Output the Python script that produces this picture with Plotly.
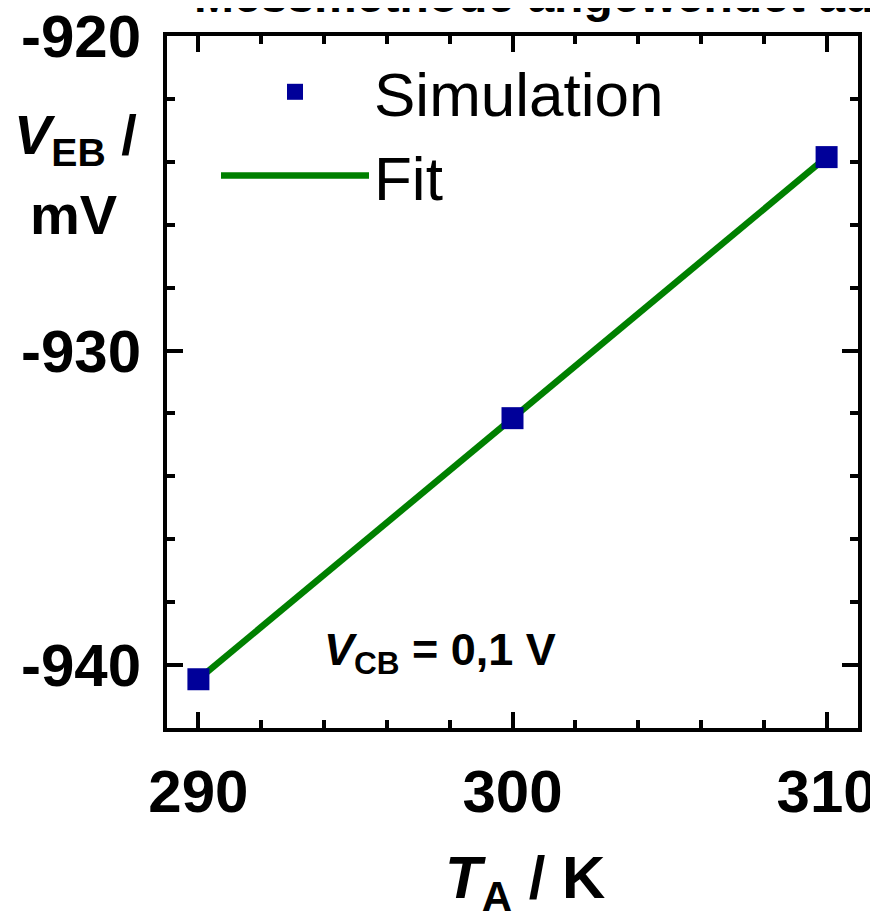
import plotly.graph_objects as go

# Data
temps = [290, 300, 310]
veb_sim = [-940.45, -932.15, -923.85]
fit_temps = [290, 300, 310]
fit_veb = [-940.45, -932.15, -923.85]
x_ticks = [290, 300, 310]
x_tick_labels = ["290", "300", "310"]
y_ticks = [-940, -930, -920]
y_tick_labels = ["-940", "-930", "-920"]

FONT = "Liberation Sans"

fig = go.Figure()
fig.add_trace(go.Scatter(
    x=fit_temps, y=fit_veb, mode="lines", name="Fit",
    line=dict(color="#008000", width=6.5),
))
fig.add_trace(go.Scatter(
    x=temps, y=veb_sim, mode="markers", name="Simulation",
    marker=dict(symbol="square", size=22, color="#000099"),
))

axis_common = dict(
    showgrid=False, zeroline=False, showline=True, linewidth=4,
    linecolor="black", mirror="ticks", ticks="inside", ticklen=16,
    tickwidth=4, tickcolor="black", automargin=False, ticklabeloverflow="allow",
    tickfont=dict(family=FONT, size=60, color="black", weight="bold"),
    minor=dict(ticks="inside", ticklen=8, tickwidth=4, tickcolor="black", dtick=2),
)

fig.update_xaxes(range=[289, 311], tickvals=x_ticks, ticktext=x_tick_labels,
                 ticklabelstandoff=8, **axis_common)
fig.update_yaxes(range=[-942, -920], tickvals=y_ticks, ticktext=y_tick_labels,
                 ticklabelstandoff=10, **axis_common)

fig.update_layout(
    width=878, height=914,
    margin=dict(l=159, r=28, t=28, b=194),
    plot_bgcolor="white", paper_bgcolor="white",
    font=dict(family=FONT, color="black"),
    legend=dict(
        x=(216 - 167) / 691, y=0.987, xanchor="left", yanchor="top",
        font=dict(family=FONT, size=62, color="black"),
        itemwidth=148, bgcolor="rgba(0,0,0,0)", traceorder="reversed",
    ),
    annotations=[
        dict(text="Messmethode angewendet auf", xref="paper", yref="paper",
             x=(192 - 167) / 691, y=1.017, xanchor="left", yanchor="bottom", showarrow=False,
             font=dict(family=FONT, size=48, weight="bold")),
        dict(text="<i>V</i><sub>EB</sub> /", xref="paper", yref="paper",
             x=(75 - 167) / 691, y=1 - (138 - 36) / 692, xanchor="center", yanchor="middle",
             showarrow=False, font=dict(family=FONT, size=56, weight="bold")),
        dict(text="mV", xref="paper", yref="paper",
             x=(73 - 167) / 691, y=1 - (215 - 36) / 692, xanchor="center", yanchor="middle",
             showarrow=False, font=dict(family=FONT, size=56, weight="bold")),
        dict(text="<i>T</i><sub>A</sub> / K", xref="paper", yref="paper",
             x=(525 - 167) / 691, y=(728 - 882) / 692, xanchor="center", yanchor="middle",
             showarrow=False, font=dict(family=FONT, size=60, weight="bold")),
        dict(text="<i>V</i><sub>CB</sub> = 0,1 V", xref="x", yref="y",
             x=297.7, y=-939.6, xanchor="center", yanchor="middle",
             showarrow=False, font=dict(family=FONT, size=45, weight="bold")),
    ],
)

fig.write_html("out.html")
